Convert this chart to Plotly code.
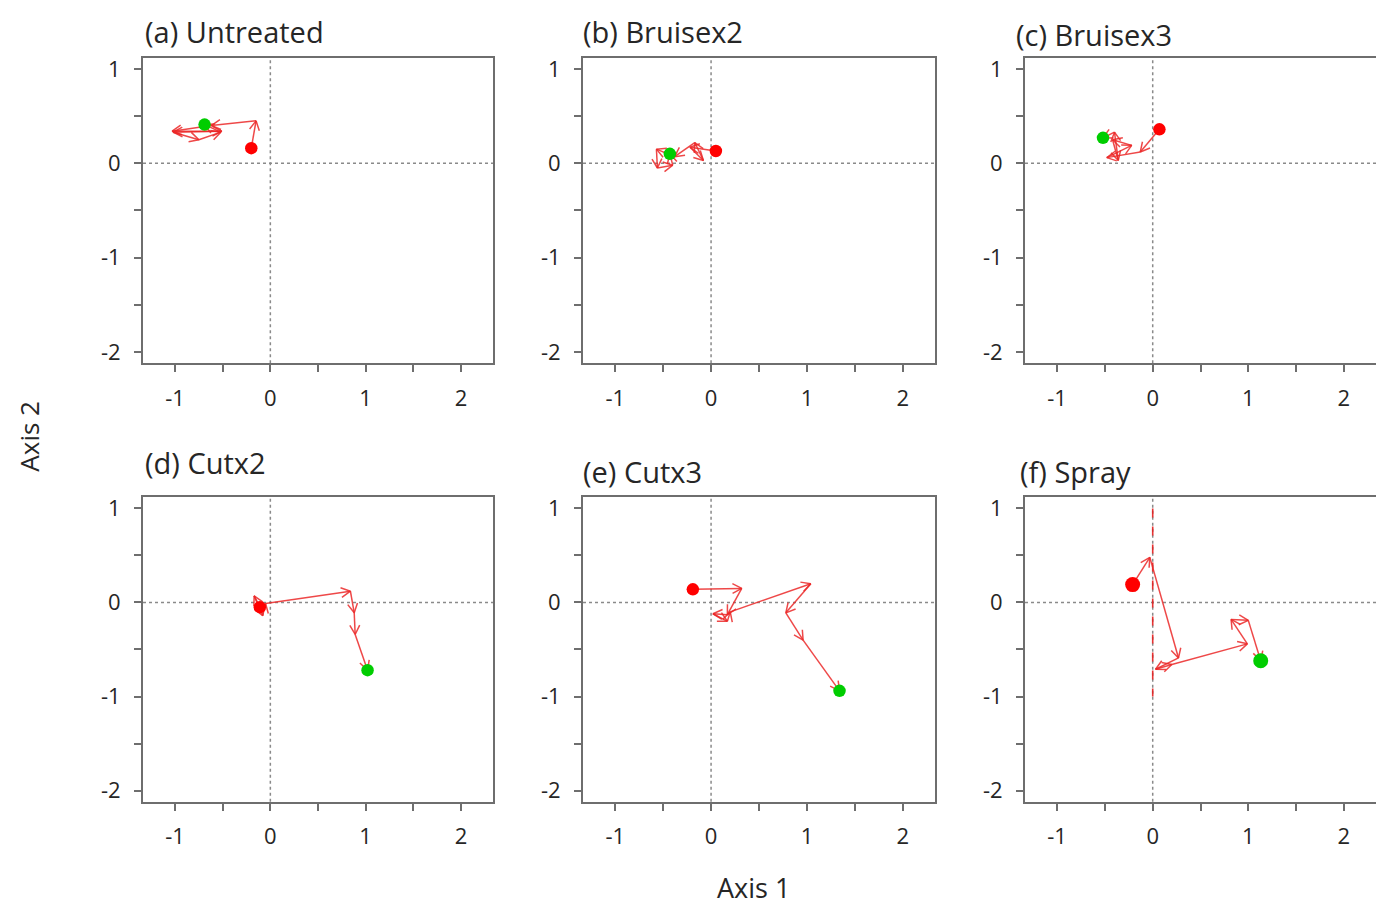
import math
import plotly.graph_objects as go

# ---------------- data ----------------
titles = ["(a) Untreated", "(b) Bruisex2", "(c) Bruisex3",
          "(d) Cutx2", "(e) Cutx3", "(f) Spray"]

untreated_x = [-0.20, -0.15, -0.62, -1.03, -0.51, -1.02, -0.75, -0.52, -0.69]
untreated_y = [0.16, 0.45, 0.40, 0.34, 0.34, 0.33, 0.25, 0.33, 0.41]

bruise2_x = [0.05, -0.22, -0.08, -0.17, -0.38, -0.57, -0.56, -0.40, -0.43]
bruise2_y = [0.13, 0.17, 0.03, 0.22, 0.07, 0.15, -0.05, -0.02, 0.10]

bruise3_x = [0.07, -0.13, -0.48, -0.22, -0.42, -0.36, -0.40, -0.52]
bruise3_y = [0.36, 0.12, 0.06, 0.19, 0.25, 0.03, 0.33, 0.27]

cut2_x = [-0.11, -0.17, -0.08, -0.05, 0.84, 0.88, 0.89, 1.02]
cut2_y = [-0.05, 0.07, -0.14, -0.01, 0.12, -0.11, -0.34, -0.72]

cut3_x = [-0.19, 0.32, 0.17, 0.02, 0.17, 0.20, 1.04, 0.78, 0.96, 1.34]
cut3_y = [0.14, 0.15, -0.13, -0.12, -0.20, -0.10, 0.20, -0.11, -0.40, -0.94]

spray_x = [-0.21, -0.03, 0.27, 0.03, 0.20, 0.99, 0.82, 1.00, 1.13]
spray_y = [0.19, 0.48, -0.59, -0.71, -0.66, -0.44, -0.18, -0.19, -0.62]

spray_dash_x = [0.0, 0.0]
spray_dash_y = [1.0, -1.0]

x_tickvals = [-1, -0.5, 0, 0.5, 1, 1.5, 2]
x_ticktext = ["-1", "", "0", "", "1", "", "2"]
y_tickvals = [-2, -1.5, -1, -0.5, 0, 0.5, 1]
y_ticktext = ["-2", "", "-1", "", "0", "", "1"]

series = [(untreated_x, untreated_y), (bruise2_x, bruise2_y), (bruise3_x, bruise3_y),
          (cut2_x, cut2_y), (cut3_x, cut3_y), (spray_x, spray_y)]

# ---------------- layout geometry ----------------
OFF = 8                      # page body margin in the browser
W, H = 1384 - OFF, 905 - OFF
cols = [(143, 493), (583, 935), (1025, 1376)]
rows = [(53, 361), (496, 803)]
XR = [-1.336, 2.336]
YR = [-2.12, 1.12]
title_pos = [(143, 27), (581, 27), (1014, 30), (143, 461), (581, 470), (1018, 470)]


def px(x):
    return (x - OFF) / W


def py(y):
    return 1 - (y - OFF) / H


FONT = "Open Sans, Lato, sans-serif"
TXT = "#262626"
RED = "#ff0000"
ARROW = "rgba(235,40,40,0.85)"
GREEN = "#00cd00"
BOX = "#6e6e6e"

fig = go.Figure()
annotations = []
shapes = []

for i, (xs, ys) in enumerate(series):
    r, c = divmod(i, 3)
    (xl, xr), (yt, yb) = cols[c], rows[r]
    sx = (xr - xl) / (XR[1] - XR[0])
    sy = (yb - yt) / (YR[1] - YR[0])
    ax = "" if i == 0 else str(i + 1)
    xa, ya = "x" + ax, "y" + ax

    # arrows between successive points
    lx, ly = [], []
    L = 10.5
    half = math.radians(28)
    for k in range(len(xs) - 1):
        x0, y0, x1, y1 = xs[k], ys[k], xs[k + 1], ys[k + 1]
        lx += [x0, x1, None]
        ly += [y0, y1, None]
        th = math.atan2((y1 - y0) * sy, (x1 - x0) * sx)
        wx, wy = [], []
        for s in (1, -1):
            a = th + math.pi + s * half
            wx.append(x1 + L * math.cos(a) / sx)
            wy.append(y1 + L * math.sin(a) / sy)
        lx += [wx[0], x1, wx[1], None]
        ly += [wy[0], y1, wy[1], None]

    # dotted reference lines at 0
    for d in [dict(type="line", xref=xa, yref=ya + " domain", x0=0, x1=0, y0=0, y1=1),
              dict(type="line", xref=xa + " domain", yref=ya, x0=0, x1=1, y0=0, y1=0)]:
        d["line"] = dict(color="#8a8a8a", width=1.5, dash="dot")
        d["layer"] = "below"
        shapes.append(d)

    if i == 5:
        fig.add_trace(go.Scatter(x=spray_dash_x, y=spray_dash_y, mode="lines",
                                 line=dict(color="rgba(230,30,30,0.9)", width=1.6, dash="dash"),
                                 xaxis=xa, yaxis=ya, hoverinfo="skip", showlegend=False))

    fig.add_trace(go.Scatter(x=lx, y=ly, mode="lines",
                             line=dict(color=ARROW, width=1.5),
                             xaxis=xa, yaxis=ya, hoverinfo="skip", showlegend=False))
    msize = 15 if i == 5 else 12.5
    fig.add_trace(go.Scatter(x=[xs[0]], y=[ys[0]], mode="markers",
                             marker=dict(color=RED, size=msize),
                             xaxis=xa, yaxis=ya, showlegend=False))
    fig.add_trace(go.Scatter(x=[xs[-1]], y=[ys[-1]], mode="markers",
                             marker=dict(color=GREEN, size=msize),
                             xaxis=xa, yaxis=ya, showlegend=False))

    common = dict(showline=True, mirror=True, linecolor=BOX, linewidth=2,
                  ticks="outside", ticklen=7, tickwidth=1.5, tickcolor=BOX,
                  showgrid=False, zeroline=False,
                  tickfont=dict(family=FONT, size=22, color=TXT))
    fig.layout["xaxis" + ax] = dict(common, range=XR, tickmode="array",
                                    tickvals=x_tickvals, ticktext=x_ticktext,
                                    domain=[px(xl), px(xr)], anchor=ya,
                                    ticklabelstandoff=7)
    fig.layout["yaxis" + ax] = dict(common, range=YR, tickmode="array",
                                    tickvals=y_tickvals, ticktext=y_ticktext,
                                    domain=[py(yb), py(yt)], anchor=xa,
                                    ticklabelstandoff=9)

    tx, ty = title_pos[i]
    annotations.append(dict(text=titles[i], x=px(tx), y=py(ty), xref="paper", yref="paper",
                            xanchor="left", yanchor="middle", showarrow=False,
                            font=dict(family=FONT, size=29, color=TXT)))

annotations.append(dict(text="Axis 1", x=px(753), y=py(889), xref="paper", yref="paper",
                        xanchor="center", yanchor="middle", showarrow=False,
                        font=dict(family=FONT, size=27, color=TXT)))
annotations.append(dict(text="Axis 2", x=px(29), y=py(435), xref="paper", yref="paper",
                        xanchor="center", yanchor="middle", showarrow=False, textangle=-90,
                        font=dict(family=FONT, size=26, color=TXT)))

fig.update_layout(width=W, height=H, margin=dict(l=0, r=0, t=0, b=0),
                  paper_bgcolor="white", plot_bgcolor="white",
                  annotations=annotations, shapes=shapes, showlegend=False)

fig.write_html("out.html")
